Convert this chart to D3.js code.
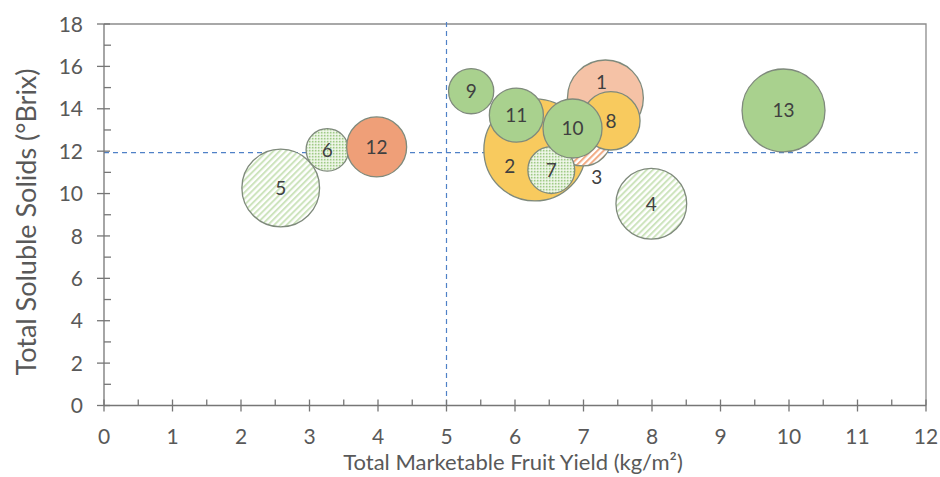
<!DOCTYPE html>
<html>
<head>
<meta charset="utf-8">
<script src="https://cdn.jsdelivr.net/npm/d3@7/dist/d3.min.js"></script>
<style>
  html, body { margin: 0; padding: 0; background: #fff; }
  svg { display: block; font-family: Lato, "Open Sans", sans-serif; }
</style>
</head>
<body>
<svg id="chart" width="940" height="477"></svg>
<script>
// Treatment numbers, yield (kg/m²), soluble solids (°Brix) and bubble size
const treatments = [1, 2, 3, 4, 5, 6, 7, 8, 9, 10, 11, 12, 13];
const yieldKg    = [7.32, 6.29, 6.99, 7.99, 2.58, 3.26, 6.53, 7.40, 5.36, 6.84, 6.02, 3.98, 9.92];
const brix       = [14.51, 12.06, 12.67, 9.52, 10.26, 12.06, 11.11, 13.43, 14.83, 13.07, 13.70, 12.20, 13.92];
const bubbleSize = [14.4, 26.0, 8.4, 12.5, 15.1, 4.5, 5.5, 8.5, 5.1, 8.7, 7.3, 9.0, 17.2];

// Reference thresholds
const yieldRef = 5;
const brixRef = 11.93;

// Axis ticks
const xTicks = [0, 1, 2, 3, 4, 5, 6, 7, 8, 9, 10, 11, 12];
const yTicks = [0, 2, 4, 6, 8, 10, 12, 14, 16, 18];
const xMinor = [0.5, 1.5, 2.5, 3.5, 4.5, 5.5, 6.5, 7.5, 8.5, 9.5, 10.5, 11.5];
const yMinor = [1, 3, 5, 7, 9, 11, 13, 15, 17];

const xTitle = "Total Marketable Fruit Yield (kg/m²)";
const yTitle = "Total Soluble Solids (°Brix)";

const svg = d3.select("#chart");
const x = d3.scaleLinear().domain([0, 12]).range([104, 926]);
const y = d3.scaleLinear().domain([0, 18]).range([405.5, 24]);
const r = d3.scaleSqrt().domain([0, 26]).range([0, 51]);

const axisColor = "#767676";
const textColor = "#595959";

// Fill patterns
const defs = svg.append("defs");
function stripes(id, color) {
  const p = defs.append("pattern")
    .attr("id", id).attr("patternUnits", "userSpaceOnUse")
    .attr("width", 4.4).attr("height", 4.4)
    .attr("patternTransform", "rotate(45)");
  p.append("rect").attr("width", 4.4).attr("height", 4.4).attr("fill", "#fff");
  p.append("rect").attr("width", 2.0).attr("height", 4.4).attr("fill", color);
}
stripes("hatchGreen", "#cde4bd");
stripes("hatchSalmon", "#f2ab84");

const dots = defs.append("pattern")
  .attr("id", "dotGreen").attr("patternUnits", "userSpaceOnUse")
  .attr("width", 3).attr("height", 3);
dots.append("rect").attr("width", 3).attr("height", 3).attr("fill", "#e3f0d9");
dots.append("circle").attr("cx", 0.75).attr("cy", 0.75).attr("r", 0.75).attr("fill", "#8fc274");
dots.append("circle").attr("cx", 2.25).attr("cy", 2.25).attr("r", 0.6).attr("fill", "#ffffff");

const fillFor = {
  1: "#f5c2a6", 2: "#f8ca5e", 3: "url(#hatchSalmon)", 4: "url(#hatchGreen)",
  5: "url(#hatchGreen)", 6: "url(#dotGreen)", 7: "url(#dotGreen)", 8: "#f8ca5e",
  9: "#a9d18e", 10: "#a9d18e", 11: "#a9d18e", 12: "#ef9f78", 13: "#a9d18e"
};

// Plot frame (top and right edges)
svg.append("path")
  .attr("d", `M${x(0)},${y(18)}H${x(12)}V${y(0)}`)
  .attr("fill", "none").attr("stroke", "#8c8c8c").attr("stroke-width", 1.3);

// Reference lines
svg.append("line")
  .attr("x1", x(yieldRef)).attr("x2", x(yieldRef))
  .attr("y1", y(18) - 2).attr("y2", y(0))
  .attr("stroke", "#4f81c7").attr("stroke-width", 1.2).attr("stroke-dasharray", "5,4");
svg.append("line")
  .attr("x1", x(0)).attr("x2", x(11.88))
  .attr("y1", y(brixRef)).attr("y2", y(brixRef))
  .attr("stroke", "#4f81c7").attr("stroke-width", 1.2).attr("stroke-dasharray", "5,4");

// Bubbles, drawn in treatment order
const data = treatments.map((t, i) => ({ t, x: yieldKg[i], y: brix[i], s: bubbleSize[i] }));
svg.append("g").selectAll("circle").data(data).join("circle")
  .attr("cx", d => x(d.x)).attr("cy", d => y(d.y)).attr("r", d => r(d.s))
  .attr("fill", d => fillFor[d.t])
  .attr("stroke", "#7f8a7c").attr("stroke-width", 1.3);

// Bubble labels (a few nudged off-centre so they stay visible)
const nudge = { 1: [-4, -16], 2: [-25, 16], 3: [14, 40] };
svg.append("g").selectAll("text").data(data).join("text")
  .attr("x", d => x(d.x) + (nudge[d.t] ? nudge[d.t][0] : 0))
  .attr("y", d => y(d.y) + (nudge[d.t] ? nudge[d.t][1] : 0))
  .attr("dy", "0.36em").attr("text-anchor", "middle")
  .attr("font-size", 19).attr("fill", "#404040")
  .text(d => d.t);

// X axis
const xAxis = svg.append("g");
xAxis.append("line").attr("x1", x(0)).attr("x2", x(12)).attr("y1", y(0)).attr("y2", y(0))
  .attr("stroke", axisColor).attr("stroke-width", 1.3);
xAxis.selectAll(".maj").data(xTicks).join("line").attr("class", "maj")
  .attr("x1", d => x(d)).attr("x2", d => x(d)).attr("y1", y(0) - 6).attr("y2", y(0) + 6)
  .attr("stroke", axisColor).attr("stroke-width", 1.3);
xAxis.selectAll(".min").data(xMinor).join("line").attr("class", "min")
  .attr("x1", d => x(d)).attr("x2", d => x(d)).attr("y1", y(0) - 6).attr("y2", y(0))
  .attr("stroke", axisColor).attr("stroke-width", 1.3);
xAxis.selectAll("text").data(xTicks).join("text")
  .attr("x", d => x(d)).attr("y", 437).attr("dy", "0.35em")
  .attr("text-anchor", "middle").attr("font-size", 21).attr("fill", textColor)
  .text(d => d);

// Y axis
const yAxis = svg.append("g");
yAxis.append("line").attr("x1", x(0)).attr("x2", x(0)).attr("y1", y(0)).attr("y2", y(18))
  .attr("stroke", axisColor).attr("stroke-width", 1.3);
yAxis.selectAll(".maj").data(yTicks).join("line").attr("class", "maj")
  .attr("x1", x(0) - 7).attr("x2", x(0) + 6).attr("y1", d => y(d)).attr("y2", d => y(d))
  .attr("stroke", axisColor).attr("stroke-width", 1.3);
yAxis.selectAll(".min").data(yMinor).join("line").attr("class", "min")
  .attr("x1", x(0)).attr("x2", x(0) + 7).attr("y1", d => y(d)).attr("y2", d => y(d))
  .attr("stroke", axisColor).attr("stroke-width", 1.3);
yAxis.selectAll("text").data(yTicks).join("text")
  .attr("x", 83).attr("y", d => y(d)).attr("dy", "0.36em")
  .attr("text-anchor", "end").attr("font-size", 21).attr("fill", textColor)
  .text(d => d);

// Axis titles
svg.append("text")
  .attr("x", 513).attr("y", 470).attr("text-anchor", "middle")
  .attr("font-size", 22).attr("fill", textColor)
  .text(xTitle);
svg.append("text")
  .attr("transform", "translate(27,222) rotate(-90)")
  .attr("dy", "0.35em").attr("text-anchor", "middle")
  .attr("font-size", 27).attr("fill", textColor)
  .text(yTitle);
</script>
</body>
</html>
